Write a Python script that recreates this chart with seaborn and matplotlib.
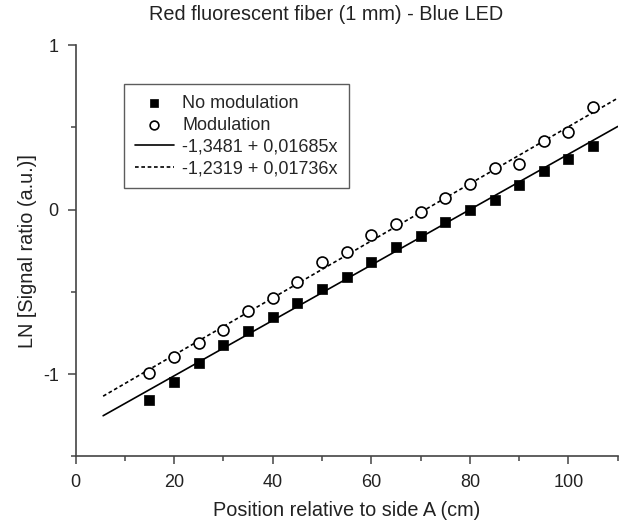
import numpy as np
import pandas as pd
import seaborn as sns
import matplotlib
matplotlib.use("Agg")
import matplotlib.pyplot as plt
from matplotlib.ticker import MultipleLocator

# ---- data ----
positions = [15, 20, 25, 30, 35, 40, 45, 50, 55, 60, 65, 70, 75, 80, 85, 90, 95, 100, 105]
no_modulation = [-1.16, -1.047, -0.931, -0.825, -0.738, -0.652, -0.567, -0.485, -0.409, -0.319,
                 -0.228, -0.159, -0.077, 0.0, 0.057, 0.148, 0.234, 0.309, 0.388]
modulation = [-0.992, -0.896, -0.809, -0.734, -0.616, -0.539, -0.443, -0.318, -0.255, -0.156,
              -0.087, -0.016, 0.069, 0.154, 0.254, 0.279, 0.417, 0.471, 0.624]
fit_intercepts = [-1.3481, -1.2319]
fit_slopes = [0.01685, 0.01736]
fit_labels = ["-1,3481 + 0,01685x", "-1,2319 + 0,01736x"]
fit_range = [5.6, 110]

title = "Red fluorescent fiber (1 mm) - Blue LED"
xlabel = "Position relative to side A (cm)"
ylabel = "LN [Signal ratio (a.u.)]"

sns.set_style("ticks")
plt.rcParams["font.family"] = ["Liberation Sans", "DejaVu Sans"]
plt.rcParams["axes.unicode_minus"] = False

fig = plt.figure(figsize=(6.19, 5.25), dpi=100)
ax = fig.add_axes([0.122, 0.131, 0.876, 0.783])

df = pd.DataFrame({"x": positions, "no": no_modulation, "mod": modulation})

sns.scatterplot(data=df, x="x", y="no", ax=ax, marker="s", s=48, color="black",
                edgecolor="black", linewidth=0.5, label="No modulation", zorder=3)
sns.scatterplot(data=df, x="x", y="mod", ax=ax, marker="o", s=62, facecolor="white",
                edgecolor="black", linewidth=1.2, label="Modulation", zorder=3)

xs = np.array(fit_range)
styles = ["-", (0, (2.2, 1.6))]
for b, m, lab, ls in zip(fit_intercepts, fit_slopes, fit_labels, styles):
    line_df = pd.DataFrame({"x": xs, "y": b + m * xs})
    sns.lineplot(data=line_df, x="x", y="y", ax=ax, color="black", linewidth=1.2,
                 linestyle=ls, label=lab, zorder=2)

ax.set_xlim(0, 110)
ax.set_ylim(-1.5, 1)
ax.xaxis.set_major_locator(MultipleLocator(20))
ax.xaxis.set_minor_locator(MultipleLocator(10))
ax.yaxis.set_major_locator(MultipleLocator(1))
ax.yaxis.set_minor_locator(MultipleLocator(0.5))
ax.tick_params(which="major", direction="out", length=6, width=1.1, color="#444444",
               labelsize=13, labelcolor="#222222")
ax.tick_params(axis="x", which="major", pad=7)
ax.tick_params(axis="y", which="major", pad=6)
ax.tick_params(which="minor", direction="out", length=3.5, width=1.1, color="#444444")

sns.despine(ax=ax)
for sp in ["left", "bottom"]:
    ax.spines[sp].set_color("#444444")
    ax.spines[sp].set_linewidth(1.2)

ax.set_xlabel(xlabel, fontsize=14.3, color="#222222", labelpad=7)
ax.set_ylabel(ylabel, fontsize=14.3, color="#222222", labelpad=4)
fig.text(0.527, 0.972, title, fontsize=14.3, color="#222222", ha="center", va="center")

leg = ax.legend(loc="upper left", bbox_to_anchor=(0.089, 0.905), frameon=True, fancybox=False,
                edgecolor="#333333", fontsize=13, handlelength=2.2, handletextpad=0.45,
                borderpad=0.6, labelspacing=0.27, borderaxespad=0, markerscale=0.8)
leg.get_frame().set_linewidth(1.0)

fig.savefig("out.png", dpi=100)
